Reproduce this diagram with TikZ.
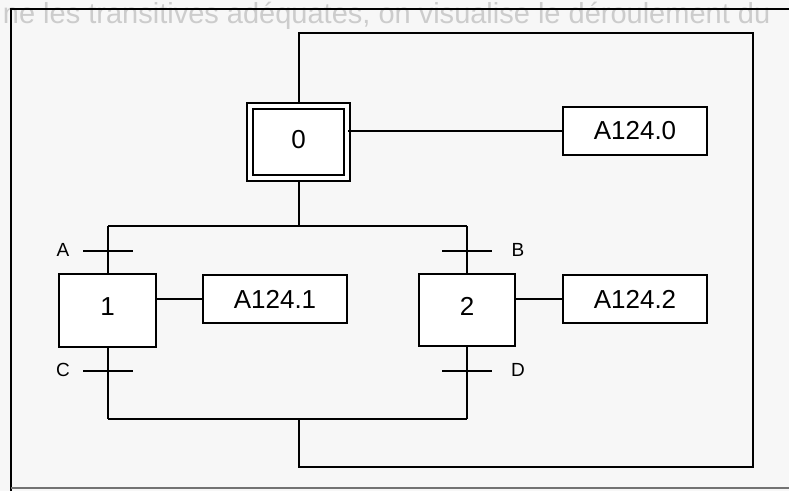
\documentclass[tikz,border=0pt]{standalone}
\usepackage{fontspec}
\setmainfont{Liberation Sans}
\begin{document}
\begin{tikzpicture}[x=1pt,y=-1pt,line width=1.9pt,
  stepbox/.style={draw,fill=white,inner sep=0pt,minimum width=97pt,minimum height=73pt,font=\fontsize{26}{26}\selectfont},
  initstep/.style={stepbox,double,double distance=3.8pt,minimum width=96.5pt,minimum height=72.5pt},
  actbox/.style={draw,fill=white,inner sep=0pt,minimum width=144pt,minimum height=48pt,font=\fontsize{26}{26}\selectfont},
  trbar/.style={line width=1.9pt},
  trlabel/.style={inner sep=0pt,font=\fontsize{19}{19}\selectfont},
  bleed/.style={inner sep=0pt,text=black!20,font=\fontsize{29}{29}\selectfont}]
\useasboundingbox (0,0) rectangle (789,491);
\fill[black!3] (0,0) rectangle (789,491);
% faint show-through text from the page
\node[bleed,anchor=base west] (bl0) at (2,23) {ne les transitives adéquates, on visualise le déroulement du};
% page frame
\draw[line width=2pt] (11,491) -- (11,9) -- (789,9);
\draw[line width=1.4pt,black!55] (11,488) -- (789,488);
% coordinates
\coordinate (bt) at (299,226);
\coordinate (bl) at (108,226);
\coordinate (br) at (467,226);
\coordinate (jl) at (108,419);
\coordinate (jr) at (467,419);
\coordinate (jm) at (299,419);
\coordinate (lp1) at (299,467);
\coordinate (lp2) at (753,467);
\coordinate (lp3) at (753,33);
\coordinate (lp4) at (299,33);
% connectors
\draw (bt) -- (299,181);
\draw (bl) -- (br);
\draw (bl) -- (jl);
\draw (br) -- (jr);
\draw (jl) -- (jr);
\draw (jm) -- (lp1) -- (lp2) -- (lp3) -- (lp4) -- (299,103);
% steps
\node[initstep] (s0) at (298.5,142) {\raisebox{6pt}{0}};
\node[stepbox] (s1) at (107.5,310.5) {\raisebox{8pt}{1}};
\node[stepbox,minimum width=96pt,minimum height=72pt] (s2) at (467,310) {\raisebox{8pt}{2}};
% actions
\node[actbox] (a0) at (635,131) {A124.0};
\node[actbox] (a1) at (275,299) {A124.1};
\node[actbox] (a2) at (635,299) {A124.2};
\draw (a0.west) -- (a0.west -| s0.east);
\draw (a1.west) -- (a1.west -| s1.east);
\draw (a2.west) -- (a2.west -| s2.east);
% transitions
\coordinate (tA) at (108,251);
\coordinate (tC) at (108,371);
\coordinate (tB) at (467,251);
\coordinate (tD) at (467,371);
\draw[trbar] ([xshift=-25pt]tA) -- ([xshift=25pt]tA);
\draw[trbar] ([xshift=-25pt]tC) -- ([xshift=25pt]tC);
\draw[trbar] ([xshift=-25pt]tB) -- ([xshift=25pt]tB);
\draw[trbar] ([xshift=-25pt]tD) -- ([xshift=25pt]tD);
\node[trlabel] (lA) at (63,250) {A};
\node[trlabel] (lC) at (63,370) {C};
\node[trlabel] (lB) at (518,250) {B};
\node[trlabel] (lD) at (518,370) {D};
\end{tikzpicture}
\end{document}
